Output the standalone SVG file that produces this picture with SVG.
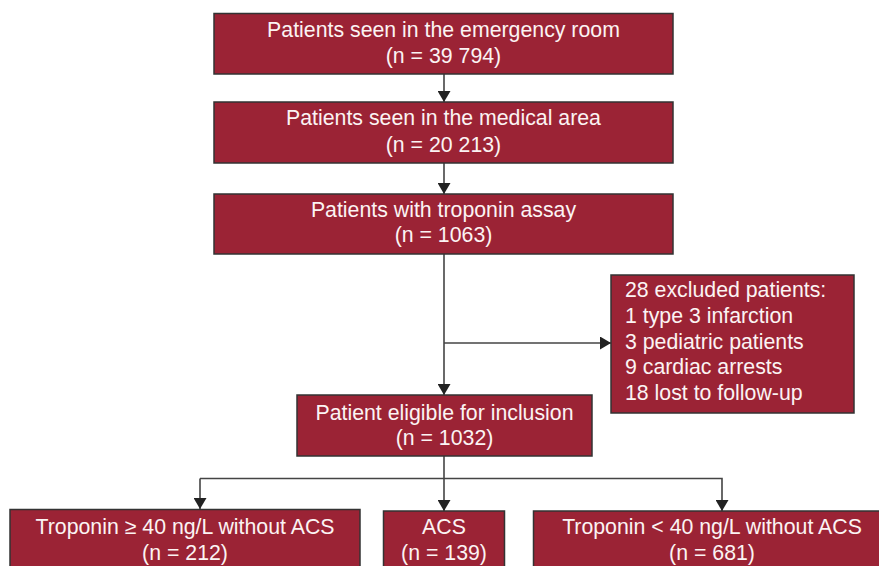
<svg xmlns="http://www.w3.org/2000/svg" width="879" height="566" viewBox="0 0 879 566">
<style>
.box{fill:#9b2335;stroke:#333;stroke-width:1.5}
.t{font-family:"Liberation Sans",Arial,sans-serif;font-size:21.3px;fill:#fbf3f3;text-anchor:middle}
.tl{font-family:"Liberation Sans",Arial,sans-serif;font-size:21.3px;fill:#fbf3f3}
.ln{fill:none;stroke:#444;stroke-width:1.6}
</style>
<defs>
<marker id="ah" markerUnits="userSpaceOnUse" markerWidth="13" markerHeight="13" refX="11" refY="6.5" orient="auto">
<path d="M0,0 L11,6.5 L0,13 z" fill="#222"/>
</marker>
</defs>
<g id="connectors">
<line class="ln" x1="444" y1="74" x2="444" y2="102" marker-end="url(#ah)"/>
<line class="ln" x1="444" y1="163" x2="444" y2="194" marker-end="url(#ah)"/>
<line class="ln" x1="444" y1="254" x2="444" y2="395" marker-end="url(#ah)"/>
<line class="ln" x1="444" y1="343" x2="611" y2="343" marker-end="url(#ah)"/>
<line class="ln" x1="444" y1="456" x2="444" y2="511" marker-end="url(#ah)"/>
<polyline class="ln" points="200,478.5 722,478.5 722,511" marker-end="url(#ah)"/>
<line class="ln" x1="200" y1="478.5" x2="200" y2="509" marker-end="url(#ah)"/>
</g>
<g id="n1">
<rect class="box" x="214" y="13.5" width="459" height="60.5"/>
<text class="t" x="443.5" y="37">Patients seen in the emergency room</text>
<text class="t" x="443.5" y="63">(n = 39 794)</text>
</g>
<g id="n2">
<rect class="box" x="214" y="102" width="459" height="61"/>
<text class="t" x="443.5" y="124.5">Patients seen in the medical area</text>
<text class="t" x="443.5" y="151.5">(n = 20 213)</text>
</g>
<g id="n3">
<rect class="box" x="214" y="194" width="459" height="60"/>
<text class="t" x="443.5" y="216.5">Patients with troponin assay</text>
<text class="t" x="443.5" y="241.5">(n = 1063)</text>
</g>
<g id="excluded">
<rect class="box" x="611" y="275" width="243" height="138"/>
<text class="tl" x="625" y="297">28 excluded patients:</text>
<text class="tl" x="625" y="323">1 type 3 infarction</text>
<text class="tl" x="625" y="348.5">3 pediatric patients</text>
<text class="tl" x="625" y="374">9 cardiac arrests</text>
<text class="tl" x="625" y="399.5">18 lost to follow-up</text>
</g>
<g id="n4">
<rect class="box" x="297" y="395" width="295" height="61"/>
<text class="t" x="444.5" y="419.5">Patient eligible for inclusion</text>
<text class="t" x="444.5" y="444.5">(n = 1032)</text>
</g>
<g id="n5">
<rect class="box" x="10" y="509.5" width="350" height="70"/>
<text class="t" x="185" y="533.5">Troponin ≥ 40 ng/L without ACS</text>
<text class="t" x="185" y="559.5">(n = 212)</text>
</g>
<g id="n6">
<rect class="box" x="383.5" y="511" width="121" height="70"/>
<text class="t" x="444" y="533.5">ACS</text>
<text class="t" x="444" y="559.5">(n = 139)</text>
</g>
<g id="n7">
<rect class="box" x="533.5" y="511" width="358" height="70"/>
<text class="t" x="712" y="533.5">Troponin &lt; 40 ng/L without ACS</text>
<text class="t" x="712" y="559.5">(n = 681)</text>
</g>
</svg>
